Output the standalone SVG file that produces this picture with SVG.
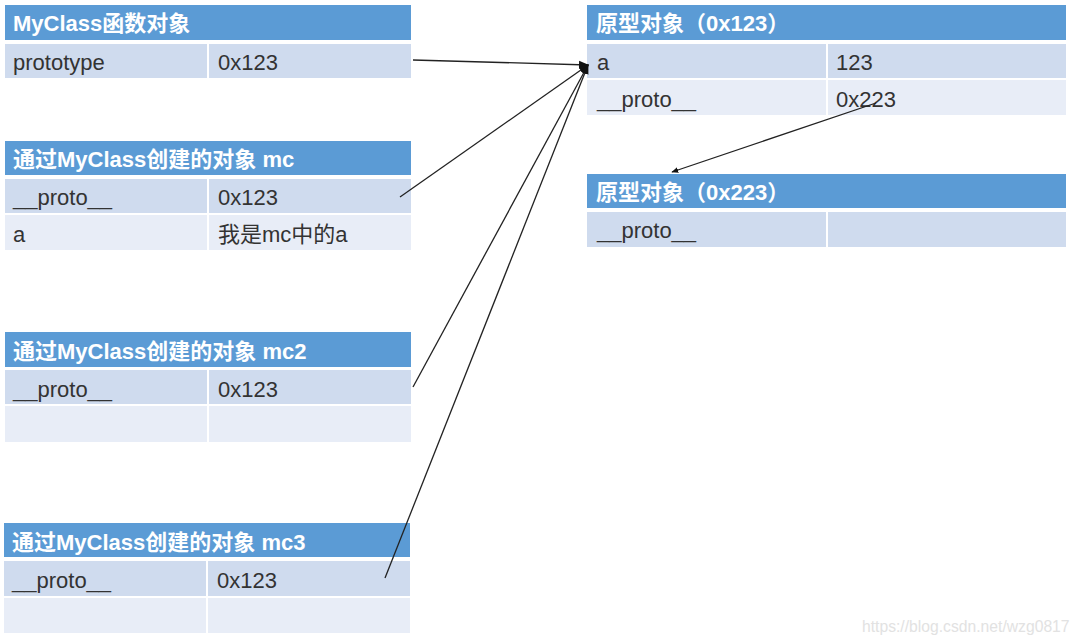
<svg xmlns="http://www.w3.org/2000/svg" width="1080" height="644" viewBox="0 0 1080 644">
<defs>
<marker id="arr" viewBox="0 0 10 10" refX="9" refY="5" markerWidth="7" markerHeight="7" orient="auto" markerUnits="userSpaceOnUse">
<path d="M0,1 L10,5 L0,9 z" fill="#111"/>
</marker>
<marker id="arrBig" viewBox="0 0 10 10" refX="9" refY="5" markerWidth="10" markerHeight="10" orient="auto" markerUnits="userSpaceOnUse">
<path d="M0,1 L10,5 L0,9 z" fill="#111"/>
</marker>
</defs>
<style>
.hd{fill:#5b9bd5}
.r1{fill:#cfdbee}
.r2{fill:#e8edf7}
.ht{font-family:"Liberation Sans","Noto Sans CJK SC",sans-serif;font-size:22px;font-weight:bold;fill:#ffffff}
.bt{font-family:"Liberation Sans","Noto Sans CJK SC",sans-serif;font-size:22px;fill:#333333}
.ln{stroke:#222;stroke-width:1.3;fill:none}
.wm{font-family:"Liberation Sans",sans-serif;font-size:15.7px;fill:#e2e2e2}
</style>
<rect width="1080" height="644" fill="#ffffff"/>

<g id="myclass">
<rect class="hd" x="5" y="5" width="406" height="35"/>
<rect class="r1" x="5" y="44" width="202" height="34"/>
<rect class="r1" x="209" y="44" width="202" height="34"/>
<text class="ht" x="13" y="31">MyClass函数对象</text>
<text class="bt" x="13" y="70">prototype</text>
<text class="bt" x="218" y="70">0x123</text>
</g>

<g id="mc">
<rect class="hd" x="5" y="141" width="406" height="34"/>
<rect class="r1" x="5" y="179" width="202" height="34"/>
<rect class="r1" x="209" y="179" width="202" height="34"/>
<rect class="r2" x="5" y="215" width="202" height="35"/>
<rect class="r2" x="209" y="215" width="202" height="35"/>
<text class="ht" x="13" y="167">通过MyClass创建的对象 mc</text>
<text class="bt" x="13" y="205">__proto__</text>
<text class="bt" x="218" y="205">0x123</text>
<text class="bt" x="13" y="242">a</text>
<text class="bt" x="218" y="242">我是mc中的a</text>
</g>

<g id="mc2">
<rect class="hd" x="5" y="332" width="406" height="35"/>
<rect class="r1" x="5" y="370" width="202" height="34"/>
<rect class="r1" x="209" y="370" width="202" height="34"/>
<rect class="r2" x="5" y="406" width="202" height="36"/>
<rect class="r2" x="209" y="406" width="202" height="36"/>
<text class="ht" x="13" y="359">通过MyClass创建的对象 mc2</text>
<text class="bt" x="13" y="397">__proto__</text>
<text class="bt" x="218" y="397">0x123</text>
</g>

<g id="mc3">
<rect class="hd" x="4" y="523" width="406" height="34"/>
<rect class="r1" x="4" y="561" width="202" height="35"/>
<rect class="r1" x="208" y="561" width="202" height="35"/>
<rect class="r2" x="4" y="598" width="202" height="35"/>
<rect class="r2" x="208" y="598" width="202" height="35"/>
<text class="ht" x="12" y="550">通过MyClass创建的对象 mc3</text>
<text class="bt" x="12" y="588">__proto__</text>
<text class="bt" x="217" y="588">0x123</text>
</g>

<g id="proto123">
<rect class="hd" x="587" y="5" width="479" height="35"/>
<rect class="r1" x="587" y="44" width="239" height="34"/>
<rect class="r1" x="828" y="44" width="238" height="34"/>
<rect class="r2" x="587" y="80" width="239" height="35"/>
<rect class="r2" x="828" y="80" width="238" height="35"/>
<text class="ht" x="596" y="31">原型对象（0x123）</text>
<text class="bt" x="597" y="70">a</text>
<text class="bt" x="836" y="70">123</text>
<text class="bt" x="597" y="107">__proto__</text>
<text class="bt" x="836" y="107">0x223</text>
</g>

<g id="proto223">
<rect class="hd" x="587" y="174" width="479" height="34"/>
<rect class="r1" x="587" y="212" width="239" height="35"/>
<rect class="r1" x="828" y="212" width="238" height="35"/>
<text class="ht" x="596" y="200">原型对象（0x223）</text>
<text class="bt" x="597" y="238">__proto__</text>
</g>

<g id="connectors">
<line class="ln" x1="413" y1="60" x2="588" y2="65" marker-end="url(#arrBig)"/>
<line class="ln" x1="400" y1="197" x2="588" y2="65" marker-end="url(#arrBig)"/>
<line class="ln" x1="413" y1="387" x2="588" y2="65" marker-end="url(#arrBig)"/>
<line class="ln" x1="385" y1="578" x2="588" y2="65" marker-end="url(#arrBig)"/>
<line class="ln" x1="876" y1="103" x2="672" y2="172" marker-end="url(#arr)"/>
</g>

<text class="wm" x="862" y="632">https://blog.csdn.net/wzg0817</text>
</svg>
